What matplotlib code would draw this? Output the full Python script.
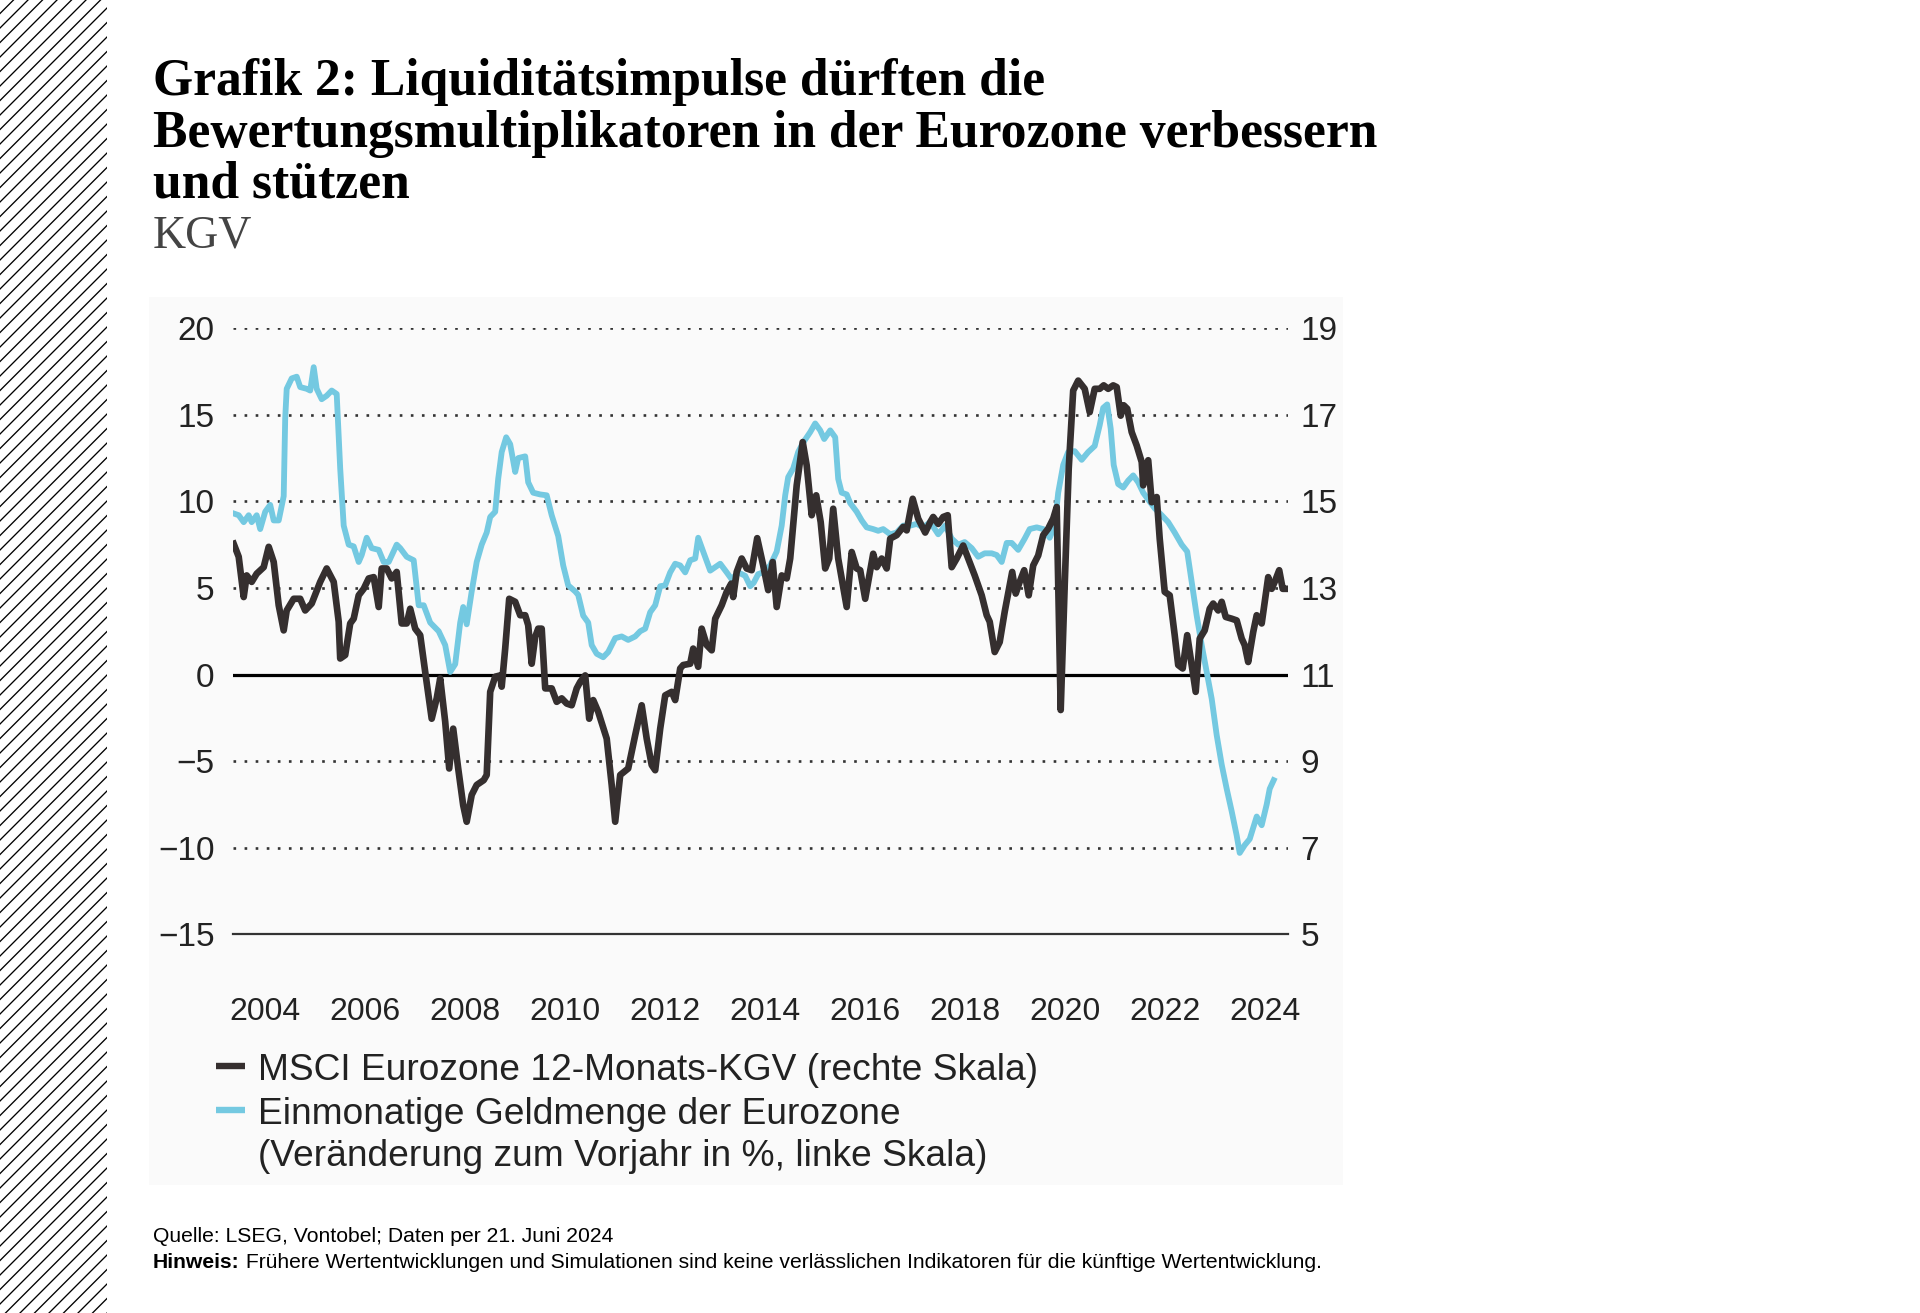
import matplotlib
matplotlib.use("Agg")
from matplotlib import pyplot as plt
from matplotlib.patches import Rectangle
from matplotlib.lines import Line2D
import numpy as np

plt.rcParams['font.family'] = ['Liberation Sans', 'DejaVu Sans']

# Einmonatige Geldmenge M1 (Veraenderung zum Vorjahr in %, linke Skala)
blue_year = [2003.38, 2003.48, 2003.58, 2003.68, 2003.74, 2003.84, 2003.91, 2004.01, 2004.11, 2004.18,
             2004.28, 2004.38, 2004.41, 2004.44, 2004.54, 2004.64, 2004.71, 2004.84, 2004.91, 2004.98,
             2005.04, 2005.14, 2005.24, 2005.34, 2005.44, 2005.51, 2005.58, 2005.68, 2005.78, 2005.88,
             2005.94, 2006.04, 2006.14, 2006.28, 2006.38, 2006.48, 2006.64, 2006.71, 2006.84, 2006.98,
             2007.08, 2007.18, 2007.31, 2007.48, 2007.61, 2007.71, 2007.81, 2007.91, 2007.97, 2008.04,
             2008.14, 2008.24, 2008.34, 2008.44, 2008.51, 2008.61, 2008.67, 2008.74, 2008.83, 2008.91,
             2009.01, 2009.07, 2009.21, 2009.27, 2009.37, 2009.51, 2009.64, 2009.74, 2009.87, 2009.97,
             2010.07, 2010.21, 2010.27, 2010.37, 2010.47, 2010.54, 2010.64, 2010.77, 2010.87, 2011.01,
             2011.14, 2011.27, 2011.41, 2011.51, 2011.61, 2011.71, 2011.81, 2011.91, 2012.01, 2012.11,
             2012.21, 2012.31, 2012.41, 2012.51, 2012.61, 2012.67, 2012.77, 2012.91, 2013.01, 2013.11,
             2013.24, 2013.34, 2013.47, 2013.61, 2013.71, 2013.78, 2013.87, 2013.97, 2014.11, 2014.24,
             2014.34, 2014.41, 2014.47, 2014.57, 2014.67, 2014.77, 2014.91, 2015.01, 2015.11, 2015.19,
             2015.31, 2015.41, 2015.47, 2015.54, 2015.64, 2015.71, 2015.84, 2015.94, 2016.04, 2016.17,
             2016.27, 2016.37, 2016.51, 2016.64, 2016.77, 2016.91, 2017.04, 2017.17, 2017.31, 2017.47,
             2017.61, 2017.74, 2017.87, 2018.00, 2018.14, 2018.27, 2018.40, 2018.54, 2018.64, 2018.74,
             2018.84, 2018.94, 2019.07, 2019.20, 2019.30, 2019.44, 2019.57, 2019.70, 2019.80, 2019.87,
             2019.97, 2020.07, 2020.20, 2020.34, 2020.47, 2020.60, 2020.70, 2020.77, 2020.85, 2020.92,
             2020.98, 2021.07, 2021.17, 2021.27, 2021.37, 2021.47, 2021.57, 2021.67, 2021.80, 2021.94,
             2022.07, 2022.20, 2022.34, 2022.45, 2022.54, 2022.64, 2022.74, 2022.84, 2022.94, 2023.04,
             2023.14, 2023.24, 2023.34, 2023.44, 2023.50, 2023.60, 2023.70, 2023.84, 2023.94, 2024.04,
             2024.10, 2024.18]
blue_val = [9.3, 9.2, 8.8, 9.2, 8.8, 9.2, 8.4, 9.4, 9.8, 8.9,
            8.9, 10.3, 14.8, 16.5, 17.1, 17.2, 16.6, 16.5, 16.4, 17.75,
            16.5, 15.9, 16.1, 16.4, 16.2, 11.9, 8.6, 7.5, 7.4, 6.5,
            6.9, 7.9, 7.3, 7.2, 6.5, 6.5, 7.5, 7.3, 6.8, 6.6,
            4.0, 4.0, 3.0, 2.5, 1.7, 0.15, 0.6, 3.0, 3.9, 2.9,
            4.8, 6.5, 7.5, 8.2, 9.1, 9.4, 11.3, 12.85, 13.7, 13.3,
            11.7, 12.5, 12.6, 11.1, 10.5, 10.4, 10.35, 9.2, 8.0, 6.3,
            5.15, 4.8, 4.6, 3.4, 3.0, 1.7, 1.2, 1.0, 1.3, 2.1,
            2.2, 2.0, 2.2, 2.5, 2.65, 3.6, 4.0, 5.1, 5.15, 5.9,
            6.4, 6.3, 5.9, 6.6, 6.7, 7.9, 7.1, 6.0, 6.2, 6.4,
            5.9, 5.5, 5.9, 5.7, 5.1, 5.3, 5.8, 5.9, 6.3, 7.1,
            8.6, 10.35, 11.4, 11.9, 12.85, 13.4, 14.0, 14.5, 14.1, 13.6,
            14.1, 13.7, 11.3, 10.5, 10.4, 9.9, 9.4, 8.9, 8.5, 8.4,
            8.3, 8.4, 8.1, 8.2, 8.6, 8.6, 8.7, 8.5, 8.8, 8.1,
            8.6, 7.85, 7.5, 7.65, 7.3, 6.8, 7.0, 7.0, 6.9, 6.5,
            7.6, 7.6, 7.2, 7.85, 8.4, 8.5, 8.4, 7.9, 8.6, 10.5,
            12.1, 12.85, 12.9, 12.4, 12.85, 13.2, 14.4, 15.4, 15.6, 14.2,
            12.1, 11.0, 10.8, 11.2, 11.5, 11.1, 10.5, 10.1, 9.6, 9.2,
            8.8, 8.2, 7.5, 7.1, 5.35, 3.4, 1.7, 0.15, -1.4, -3.5,
            -5.2, -6.6, -7.9, -9.3, -10.3, -9.85, -9.5, -8.2, -8.7, -7.5,
            -6.6, -6.1]

# MSCI Eurozone 12-Monats-KGV (rechte Skala)
black_year = [2003.38, 2003.48, 2003.58, 2003.64, 2003.74, 2003.84, 2003.98, 2004.08, 2004.18, 2004.28,
              2004.38, 2004.44, 2004.58, 2004.71, 2004.81, 2004.94, 2005.11, 2005.24, 2005.38, 2005.48,
              2005.51, 2005.61, 2005.71, 2005.78, 2005.88, 2005.98, 2006.08, 2006.18, 2006.28, 2006.34,
              2006.44, 2006.54, 2006.64, 2006.74, 2006.84, 2006.91, 2007.01, 2007.11, 2007.21, 2007.34,
              2007.44, 2007.51, 2007.61, 2007.69, 2007.77, 2007.87, 2007.97, 2008.04, 2008.14, 2008.24,
              2008.38, 2008.44, 2008.51, 2008.61, 2008.71, 2008.74, 2008.81, 2008.89, 2009.01, 2009.11,
              2009.21, 2009.27, 2009.34, 2009.41, 2009.47, 2009.54, 2009.61, 2009.74, 2009.84, 2009.94,
              2010.04, 2010.14, 2010.24, 2010.31, 2010.41, 2010.49, 2010.57, 2010.67, 2010.84, 2010.94,
              2011.01, 2011.11, 2011.27, 2011.41, 2011.54, 2011.64, 2011.74, 2011.81, 2011.91, 2012.01,
              2012.14, 2012.21, 2012.31, 2012.37, 2012.51, 2012.57, 2012.67, 2012.74, 2012.84, 2012.94,
              2013.01, 2013.14, 2013.24, 2013.33, 2013.37, 2013.44, 2013.54, 2013.64, 2013.74, 2013.85,
              2013.97, 2014.07, 2014.16, 2014.24, 2014.34, 2014.44, 2014.51, 2014.64, 2014.76, 2014.84,
              2014.94, 2015.03, 2015.12, 2015.21, 2015.29, 2015.37, 2015.47, 2015.64, 2015.74, 2015.84,
              2015.91, 2016.01, 2016.17, 2016.24, 2016.34, 2016.44, 2016.51, 2016.64, 2016.77, 2016.84,
              2016.96, 2017.07, 2017.21, 2017.31, 2017.37, 2017.47, 2017.57, 2017.66, 2017.74, 2017.84,
              2017.97, 2018.07, 2018.20, 2018.34, 2018.44, 2018.50, 2018.60, 2018.70, 2018.80, 2018.95,
              2019.02, 2019.10, 2019.19, 2019.28, 2019.37, 2019.47, 2019.57, 2019.67, 2019.77, 2019.84,
              2019.92, 2020.00, 2020.08, 2020.17, 2020.27, 2020.40, 2020.50, 2020.60, 2020.70, 2020.78,
              2020.87, 2020.97, 2021.04, 2021.12, 2021.18, 2021.25, 2021.34, 2021.44, 2021.54, 2021.57,
              2021.67, 2021.74, 2021.84, 2021.90, 2022.00, 2022.10, 2022.20, 2022.27, 2022.36, 2022.45,
              2022.54, 2022.62, 2022.70, 2022.80, 2022.90, 2022.97, 2023.07, 2023.14, 2023.22, 2023.34,
              2023.44, 2023.54, 2023.60, 2023.67, 2023.77, 2023.84, 2023.94, 2024.07, 2024.14, 2024.20,
              2024.29, 2024.36, 2024.44]
black_kgv = [14.02, 13.72, 12.79, 13.29, 13.14, 13.33, 13.48, 13.95, 13.6, 12.6,
             12.02, 12.48, 12.75, 12.75, 12.48, 12.64, 13.14, 13.45, 13.14, 12.22,
             11.37, 11.45, 12.18, 12.29, 12.83, 12.98, 13.22, 13.25, 12.56, 13.45,
             13.45, 13.22, 13.37, 12.18, 12.18, 12.52, 12.06, 11.91, 11.06, 9.98,
             10.45, 10.91, 9.91, 8.83, 9.75, 8.83, 7.98, 7.6, 8.22, 8.45,
             8.56, 8.68, 10.6, 10.95, 10.98, 10.72, 11.6, 12.75, 12.68, 12.37,
             12.37, 12.14, 11.25, 11.87, 12.06, 12.06, 10.68, 10.68, 10.37, 10.45,
             10.33, 10.29, 10.68, 10.83, 10.98, 9.98, 10.41, 10.14, 9.52, 8.45,
             7.6, 8.68, 8.83, 9.6, 10.29, 9.52, 8.91, 8.79, 9.75, 10.52,
             10.6, 10.41, 11.14, 11.22, 11.25, 11.6, 11.18, 12.06, 11.68, 11.56,
             12.29, 12.6, 12.91, 13.1, 12.79, 13.37, 13.68, 13.45, 13.41, 14.15,
             13.52, 12.95, 13.6, 12.56, 13.29, 13.22, 13.68, 15.37, 16.37, 15.83,
             14.68, 15.14, 14.52, 13.45, 13.68, 14.83, 13.68, 12.56, 13.83, 13.45,
             13.41, 12.75, 13.79, 13.48, 13.68, 13.45, 14.14, 14.22, 14.41, 14.33,
             15.06, 14.6, 14.28, 14.52, 14.64, 14.48, 14.64, 14.68, 13.48, 13.68,
             13.98, 13.68, 13.29, 12.83, 12.37, 12.22, 11.52, 11.75, 12.45, 13.37,
             12.87, 13.14, 13.41, 12.83, 13.52, 13.75, 14.22, 14.37, 14.6, 14.87,
             10.18, 13.06, 15.75, 17.56, 17.79, 17.6, 17.06, 17.6, 17.6, 17.68,
             17.6, 17.68, 17.64, 16.98, 17.22, 17.14, 16.6, 16.29, 15.91, 15.37,
             15.95, 14.98, 15.1, 14.14, 12.91, 12.83, 11.91, 11.22, 11.14, 11.91,
             11.22, 10.6, 11.83, 12.02, 12.52, 12.64, 12.48, 12.68, 12.33, 12.29,
             12.25, 11.83, 11.68, 11.29, 11.98, 12.37, 12.18, 13.25, 12.98, 13.14,
             13.41, 12.98, 12.98]

year_ticks = [2004, 2006, 2008, 2010, 2012, 2014, 2016, 2018, 2020, 2022, 2024]
left_ticks = [-15, -10, -5, 0, 5, 10, 15, 20]
right_ticks = [5, 7, 9, 11, 13, 15, 17, 19]

W, H = 1920, 1313
def fx(px):
    return px / W
def fy(py):
    return 1 - py / H

fig = plt.figure(figsize=(W / 100, H / 100), dpi=100)
fig.patch.set_facecolor('white')

# hellgrauer Hintergrund der Grafik
fig.patches.append(Rectangle((fx(149), fy(1185)), (1343 - 149) / W, (1185 - 297) / H,
                             transform=fig.transFigure, facecolor='#fafafa', edgecolor='none', zorder=-5))

# Schraffur links
ax_h = fig.add_axes([0, 0, 107 / W, 1])
ax_h.set_xlim(0, 107)
ax_h.set_ylim(0, H)
for c in np.arange(-107, H, 14.5):
    ax_h.plot([0, 107], [c, c + 107], color='black', lw=0.95)
ax_h.axis('off')

# Titel
title_lines = ['Grafik 2: Liquiditätsimpulse dürften die',
               'Bewertungsmultiplikatoren in der Eurozone verbessern',
               'und stützen']
for line, base in zip(title_lines, [95, 146.5, 197.5]):
    fig.text(fx(153), fy(base), line, family=['Liberation Serif', 'DejaVu Serif'],
             weight='bold', fontsize=37.2, va='baseline', ha='left', color='black')
fig.text(fx(153), fy(247), 'KGV', family=['Liberation Serif', 'DejaVu Serif'],
         fontsize=33, va='baseline', ha='left', color='#444444')

# Hauptachse
ax = fig.add_axes([fx(232.7), fy(934.3), (1288.2 - 232.7) / W, (934.3 - 328.2) / H])
ax.patch.set_visible(False)
ax.plot(blue_year, blue_val, color='#74c9e1', lw=4.2, solid_joinstyle='round', zorder=3)
ax.set_xlim(2003.36, 2024.47)
ax.set_ylim(-15, 20)
ax.set_yticks(left_ticks)
ax.set_xticks(year_ticks)
ax.set_xticklabels([str(y) for y in year_ticks])
ax.set_axisbelow(True)
ax.grid(axis='y', linestyle=(0, (1, 3.2)), color='#333333', lw=1.9)
ax.grid(axis='x', visible=False)
ax.axhline(0, color='black', lw=2.3, zorder=2)
for s in ['top', 'left', 'right']:
    ax.spines[s].set_visible(False)
ax.spines['bottom'].set_color('#333333')
ax.spines['bottom'].set_linewidth(1.6)
ax.tick_params(axis='both', length=0, labelcolor='#222222')
ax.tick_params(axis='y', pad=13, labelsize=24)
ax.tick_params(axis='x', pad=45, labelsize=23)

ax2 = ax.twinx()
ax2.patch.set_visible(False)
ax2.plot(black_year, black_kgv, color='#352f2f', lw=4.8, solid_joinstyle='round', zorder=4)
ax2.set_ylim(5, 19)
ax2.set_yticks(right_ticks)
for s in ax2.spines.values():
    s.set_visible(False)
ax2.tick_params(axis='y', length=0, labelsize=24, labelcolor='#222222', pad=9)

# Legende
fig.lines.append(Line2D([fx(215.5), fx(245)], [fy(1066), fy(1066)], transform=fig.transFigure,
                        color='#352f2f', lw=4.6, solid_capstyle='butt'))
fig.lines.append(Line2D([fx(215.5), fx(245)], [fy(1110), fy(1110)], transform=fig.transFigure,
                        color='#74c9e1', lw=4.6, solid_capstyle='butt'))
fig.text(fx(258), fy(1070), 'MSCI Eurozone 12-Monats-KGV (rechte Skala)', fontsize=26.7,
         va='center', ha='left', color='#222222')
fig.text(fx(258), fy(1114), 'Einmonatige Geldmenge der Eurozone', fontsize=26.7,
         va='center', ha='left', color='#222222')
fig.text(fx(258), fy(1157), '(Veränderung zum Vorjahr in %, linke Skala)', fontsize=26.7,
         va='center', ha='left', color='#222222')

# Fusszeile
fig.text(fx(153), fy(1236.5), 'Quelle: LSEG, Vontobel; Daten per 21. Juni 2024', fontsize=15.2,
         va='center', ha='left', color='black')
t1 = fig.text(fx(153), fy(1262.5), 'Hinweis:', fontsize=15.2, weight='bold', va='center', ha='left', color='black')
ax.annotate(' Frühere Wertentwicklungen und Simulationen sind keine verlässlichen Indikatoren für die künftige Wertentwicklung.',
            xy=(1, 0), xycoords=t1, va='bottom', ha='left', fontsize=15.2, color='black',
            annotation_clip=False)

fig.savefig('out.png', dpi=100)
